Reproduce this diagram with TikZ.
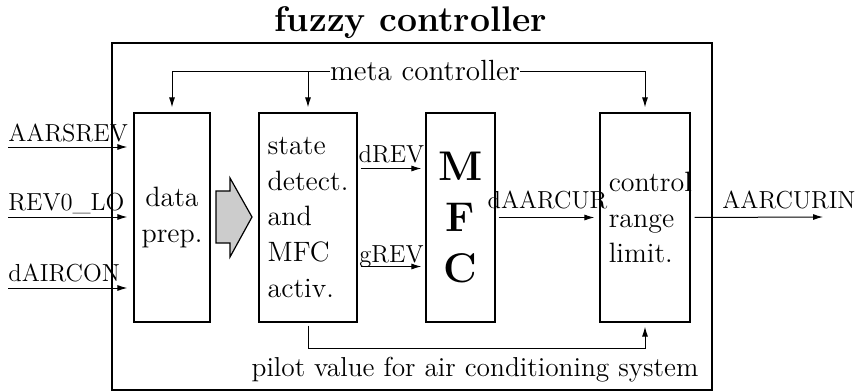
\documentclass[tikz,border=0pt]{standalone}
\usetikzlibrary{arrows.meta}

\begin{document}
\begin{tikzpicture}[
  x=0.5pt, y=-0.5pt,
  block/.style={draw, line width=0.6pt, minimum height=104.5pt, inner sep=0pt, align=center},
  txt/.style={font=\fontsize{14}{17.9}\selectfont},
  sig/.style={font=\fontsize{12.3}{14}\selectfont, inner sep=0pt, anchor=base},
  arrow/.style={-{Latex[length=5pt, width=3pt]}, line width=0.5pt}
]
\useasboundingbox (0,0) rectangle (855,391);
% frame and title
\node[draw, line width=1pt, minimum width=300pt, minimum height=173.5pt, inner sep=0pt] (fc) at (412,216.5) {};
\node[font=\fontsize{17.8}{20}\selectfont\bfseries, anchor=base] (title) at (411,32) {fuzzy controller};
% blocks
\node[block, minimum width=38pt, txt] (prep) at (172,217.5) {data\\prep.};
\node[block, minimum width=49pt, txt, align=left] (detect) at (308,217.5) {state\\detect.\\and\\MFC\\activ.};
\node[block, minimum width=34.5pt, font=\fontsize{20.74}{25.5}\selectfont\bfseries] (mfc) at (460.5,217.5) {M\\F\\C};
\node[block, minimum width=45pt] (limit) at (645,217.5) {};
\node[txt, align=left, anchor=west, inner sep=0pt] (limittext) at ([xshift=4.5pt]limit.west) {control\\range\\limit.};
\draw[fill=gray!40, line width=0.6pt] (216,191) -- (230,191) -- (230,178) -- (252,217) -- (230,257) -- (230,243) -- (216,243) -- cycle;
% meta controller
\node[font=\fontsize{14.6}{17}\selectfont, inner sep=0pt] (meta) at (425,71) {meta controller};
\draw[arrow, shorten >=2.5pt] (meta.west) -| (prep.north);
\draw[arrow, shorten >=2.5pt] (detect.north |- meta.west) -- (detect.north);
\draw[arrow, shorten >=2.5pt] (meta.east) -| (limit.north);
% inputs
\coordinate (in1) at (8,147);
\coordinate (in2) at (8,217);
\coordinate (in3) at (8,288);
\draw[arrow, shorten >=3pt] (in1) -- (in1 -| prep.west);
\draw[arrow, shorten >=3pt] (in2) -- (in2 -| prep.west);
\draw[arrow, shorten >=3pt] (in3) -- (in3 -| prep.west);
\node[sig, anchor=base west] (lab1) at (8,141) {AARSREV};
\node[sig, anchor=base west] (lab2) at (8,210) {REV0\_LO};
\node[sig, anchor=base west] (lab3) at (8,281) {dAIRCON};
% signals
\draw[arrow, shorten <=1.5pt, shorten >=2pt] ([yshift=24.5pt]detect.east) -- node[sig, yshift=3pt] (drev) {dREV} ([yshift=24.5pt]mfc.west);
\draw[arrow, shorten <=1.5pt, shorten >=2pt] ([yshift=-24.5pt]detect.east) -- node[sig, yshift=2pt] (grev) {gREV} ([yshift=-24.5pt]mfc.west);
\draw[arrow, shorten <=1.5pt, shorten >=2.5pt] (mfc.east) -- node[sig, yshift=4.5pt] (daarcur) {dAARCUR} (limit.west);
\coordinate (out) at (823,217);
\draw[arrow, shorten <=2pt] (limit.east) -- (out);
\node[sig, anchor=base west] (outlab) at (722,208) {AARCURIN};
% pilot value
\node[font=\fontsize{13.7}{16}\selectfont, inner sep=0pt] (pilot) at (475,370) {pilot value for air conditioning system};
\draw[arrow, shorten <=1.5pt, shorten >=2pt] (detect.south) |- ([yshift=4.5pt]pilot.north) -| (limit.south);
\end{tikzpicture}
\end{document}
